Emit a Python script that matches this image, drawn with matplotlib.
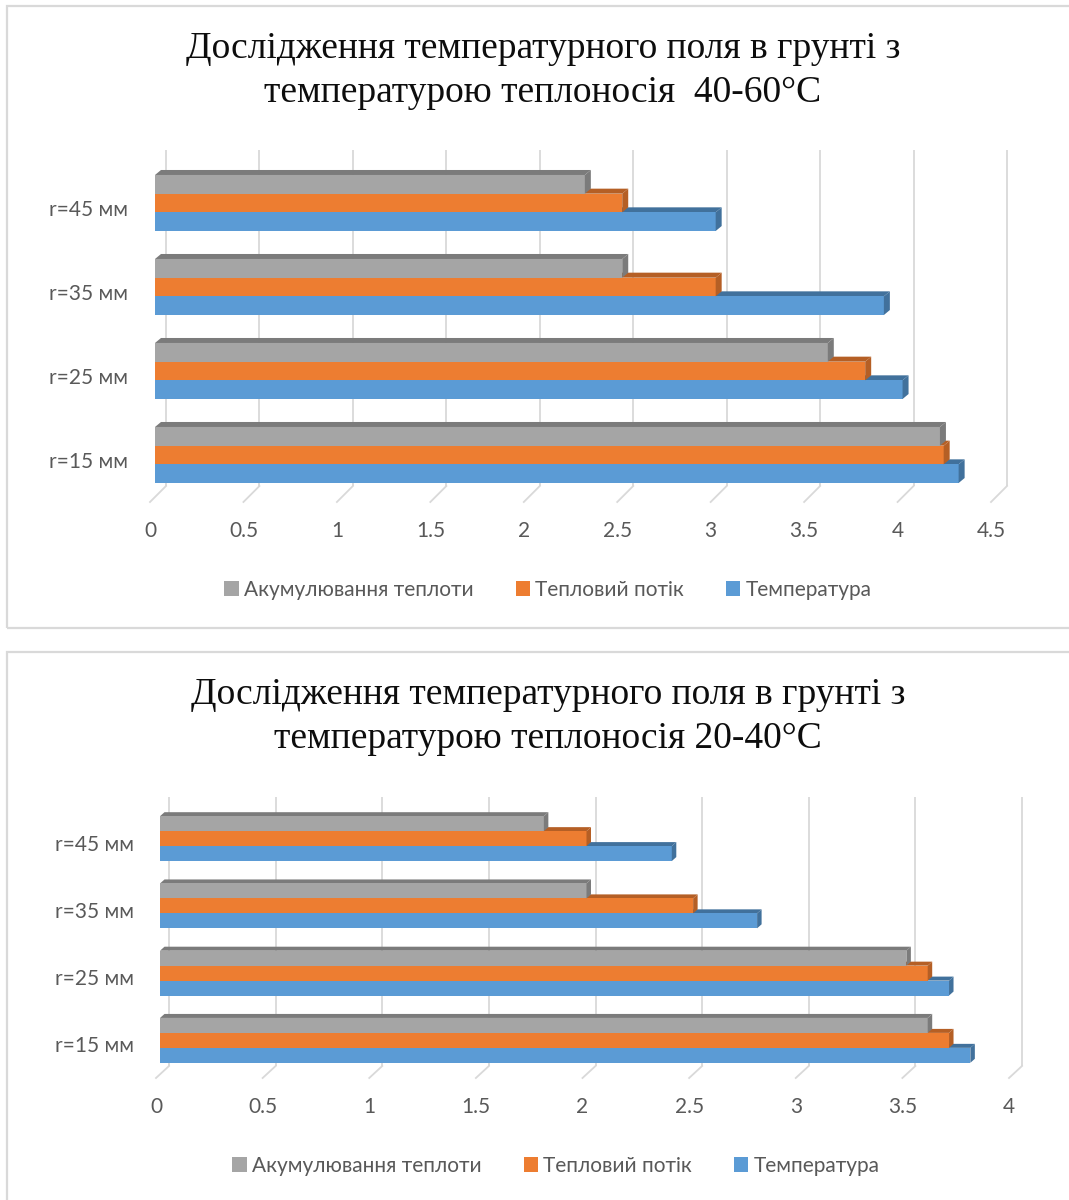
import matplotlib.pyplot as plt
from matplotlib.patches import Polygon, Patch, Rectangle
import numpy as np

# category labels (bottom to top) and series values
categories = ['r=15 мм', 'r=25 мм', 'r=35 мм', 'r=45 мм']
series_names = ['Акумулювання теплоти', 'Тепловий потік', 'Температура']

# 40-60 °C
accum_hot = [4.2, 3.6, 2.5, 2.3]
flow_hot = [4.22, 3.8, 3.0, 2.5]
temp_hot = [4.3, 4.0, 3.9, 3.0]
ticks_hot = [0, 0.5, 1, 1.5, 2, 2.5, 3, 3.5, 4, 4.5]

# 20-40 °C
accum_warm = [3.6, 3.5, 2.0, 1.8]
flow_warm = [3.7, 3.6, 2.5, 2.0]
temp_warm = [3.8, 3.7, 2.8, 2.4]
ticks_warm = [0, 0.5, 1, 1.5, 2, 2.5, 3, 3.5, 4]

front_colors = ['#a5a5a5', '#ed7d31', '#5b9bd5']
side_colors = ['#7b7b7b', '#b55f25', '#41719c']
grid_color = '#d9d9d9'
text_color = '#595959'

W, H = 1069, 1200
fig = plt.figure(figsize=(W / 100, H / 100), dpi=100)


def rect(l, t, r, b):
    return [l / W, 1 - b / H, (r - l) / W, (b - t) / H]


def draw_chart(box, values, ticks, front, depth, wall, title, title_xy, legend_xy):
    ax = fig.add_axes(rect(*box))
    xmax = ticks[-1]
    ax.set_xlim(0, xmax)
    ax.set_ylim(-0.5, 3.5)
    ux = (box[2] - box[0]) / xmax
    uy = (box[3] - box[1]) / 4.0
    fdx, fdy = front[0] / ux, front[1] / uy
    ddx, ddy = depth[0] / ux, depth[1] / uy
    wdx, wdy = wall[0] / ux, wall[1] / uy

    # back wall gridlines and floor diagonals
    for t in ticks:
        ax.plot([t + wdx, t + wdx], [-0.5 + wdy, 3.5 + wdy], color=grid_color,
                lw=1.3, zorder=1, clip_on=False, solid_capstyle='butt')
        ax.plot([t, t + wdx], [-0.5, -0.5 + wdy], color=grid_color,
                lw=1.3, zorder=1, clip_on=False)

    pos = np.arange(len(categories))
    bh = 0.667 / 3
    offsets = [bh, 0, -bh]
    # draw from the bottom bar up so upper bars hide lower top faces
    for k in [2, 1, 0]:
        y = pos + offsets[k] + fdy
        bars = ax.barh(y, values[k], left=fdx, height=bh, color=front_colors[k],
                       zorder=3 + (2 - k) * 2, clip_on=False)
        for bar in bars:
            x0 = bar.get_x()
            x1 = x0 + bar.get_width()
            y0 = bar.get_y()
            y1 = y0 + bar.get_height()
            top = Polygon([(x0, y1), (x1, y1), (x1 + ddx, y1 + ddy), (x0 + ddx, y1 + ddy)],
                          closed=True, facecolor=side_colors[k], edgecolor='none',
                          zorder=bar.get_zorder() - 0.5, clip_on=False)
            side = Polygon([(x1, y0), (x1, y1), (x1 + ddx, y1 + ddy), (x1 + ddx, y0 + ddy)],
                           closed=True, facecolor=side_colors[k], edgecolor='none',
                           zorder=bar.get_zorder() + 0.5, clip_on=False)
            ax.add_patch(top)
            ax.add_patch(side)

    for s in ax.spines.values():
        s.set_visible(False)
    ax.set_xticks(ticks)
    ax.set_xticklabels([f'{t:g}' for t in ticks], family='Lato', fontsize=15,
                       color=text_color)
    ax.set_yticks(pos)
    ax.set_yticklabels(categories, family='Lato', fontsize=15, color=text_color)
    ax.tick_params(axis='x', length=0, pad=14)
    ax.tick_params(axis='y', length=0, pad=16)

    fig.text(title_xy[0] / W, 1 - title_xy[1] / H, title,
             family='Liberation Serif', fontsize=27, color='#0d0d0d',
             ha='center', va='center', linespacing=1.36)

    handles = [Patch(facecolor=c, edgecolor='none') for c in front_colors]
    fig.legend(handles, series_names, loc='center',
               bbox_to_anchor=(legend_xy[0] / W, 1 - legend_xy[1] / H), ncol=3,
               frameon=False, handlelength=0.7, handleheight=0.7,
               handletextpad=0.25, columnspacing=2.0,
               prop={'family': 'Lato', 'size': 15}, labelcolor=text_color)
    return ax


draw_chart((150, 166, 991, 502), [accum_hot, flow_hot, temp_hot], ticks_hot,
           (5, 5), (6, 5), (16, 16),
           'Дослідження температурного поля в грунті з\nтемпературою теплоносія  40-60°C',
           (543, 70.5), (548, 590))
draw_chart((156, 809, 1009, 1078), [accum_warm, flow_warm, temp_warm], ticks_warm,
           (4, 4), (4.5, 4), (13, 12),
           'Дослідження температурного поля в грунті з\nтемпературою теплоносія 20-40°C',
           (548, 716.5), (556, 1166))

# panel frames
for t, b in [(5.5, 627.5), (651.5, 1210)]:
    fig.add_artist(Rectangle((7 / W, 1 - b / H), (1080 - 7) / W, (b - t) / H,
                             transform=fig.transFigure, fill=False,
                             edgecolor='#d9d9d9', lw=1.6, clip_on=False))

fig.savefig('out.png', dpi=100)
